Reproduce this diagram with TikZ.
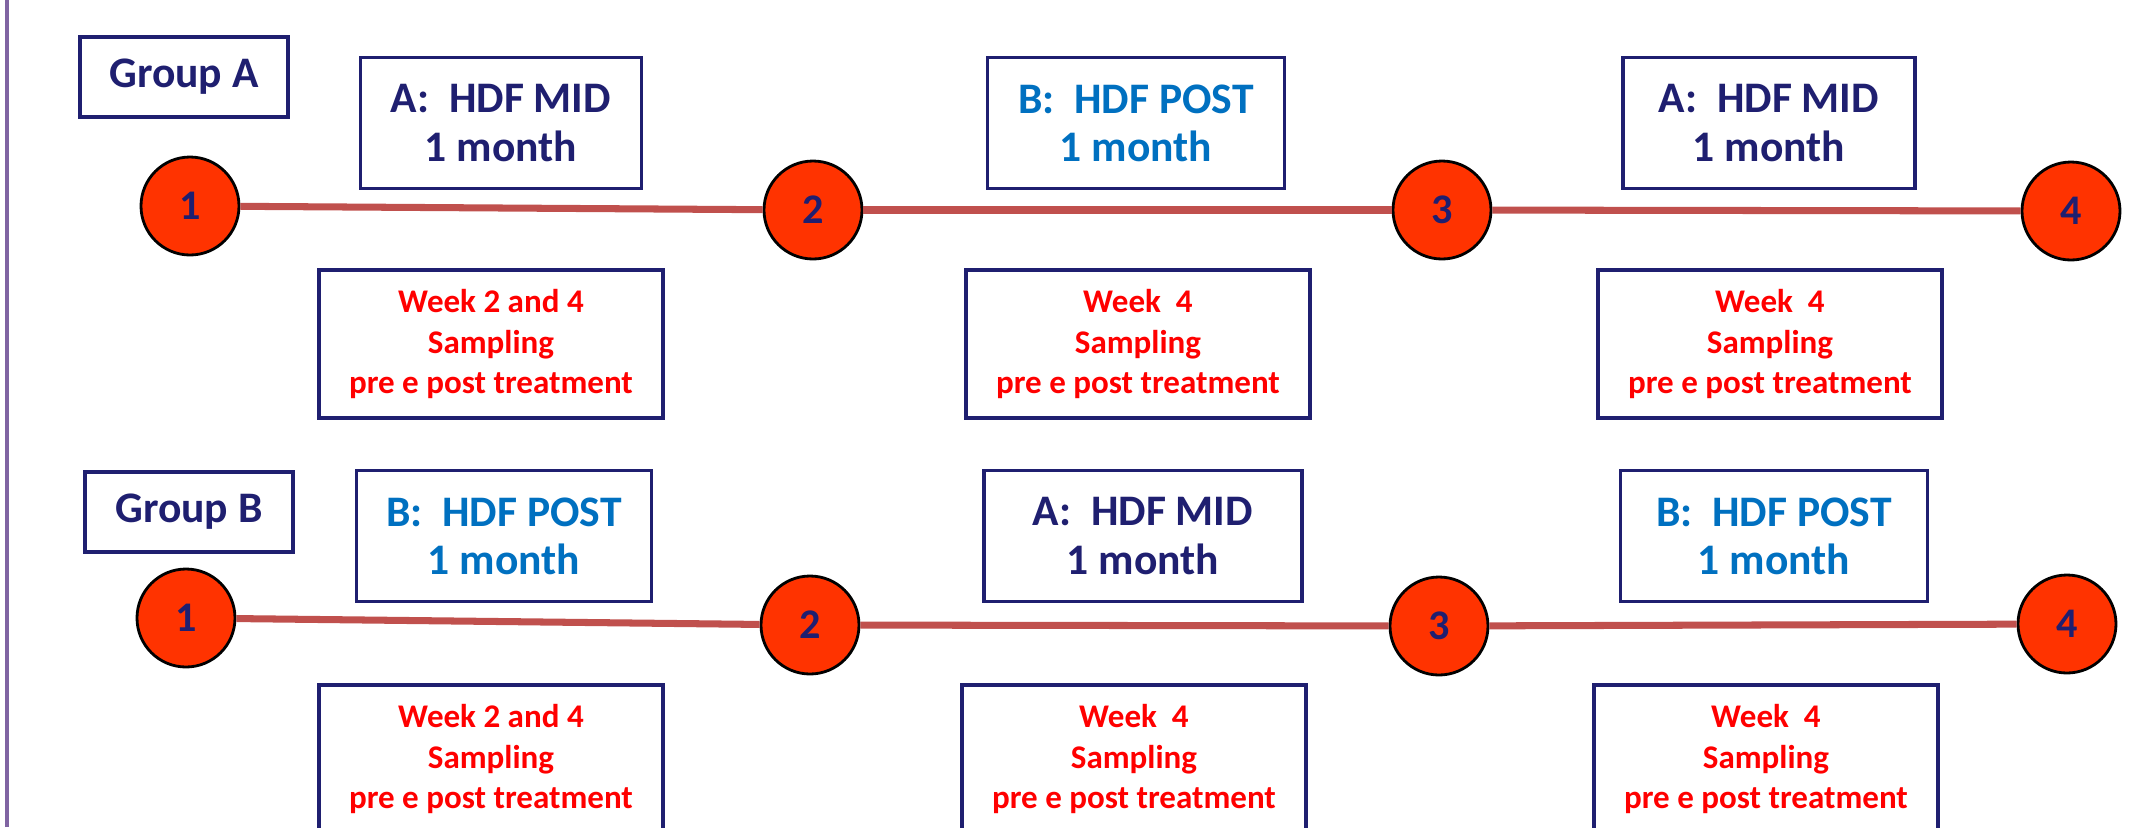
\documentclass[tikz,border=0pt]{standalone}
\usepackage{fontspec}
\setmainfont{Carlito}
\usepackage{xcolor}
\usepackage{tikz}
\usetikzlibrary{shapes.geometric, positioning}

\definecolor{boxnavy}{HTML}{1F1F70}
\definecolor{hdfblue}{HTML}{0070C0}
\definecolor{weekred}{HTML}{FF0000}
\definecolor{visitfill}{HTML}{FF3300}
\definecolor{linered}{HTML}{C0504D}
\definecolor{framepurple}{HTML}{8064A2}

\begin{document}
\begin{tikzpicture}[
    groupbox/.style={rectangle, draw=boxnavy, line width=1pt, text=boxnavy, font=\bfseries\fontsize{12.4}{14}\selectfont, minimum width=2.08cm, minimum height=0.8cm},
    phasebox/.style={rectangle, draw=boxnavy, line width=1pt, font=\bfseries\fontsize{12.4}{13.7}\selectfont, align=center, minimum height=1.31cm, inner sep=0pt},
    midbox/.style={phasebox, text=boxnavy},
    postbox/.style={phasebox, text=hdfblue},
    weekbox/.style={rectangle, draw=boxnavy, line width=1pt, text=weekred, font=\bfseries\fontsize{9.4}{11.4}\selectfont, align=center, minimum width=3.44cm, minimum height=1.48cm},
    visit/.style={circle, draw=black, line width=0.8pt, fill=visitfill, text=boxnavy, font=\bfseries\fontsize{12}{14}\selectfont, minimum size=0.98cm, inner sep=0pt},
    timeline/.style={draw=linered, line width=2pt}]

    \useasboundingbox (0,0) rectangle (21.49,8.27);
    \clip (0,0) rectangle (21.49,8.27);
    \draw [framepurple, line width=0.9pt] (0.07,0) -- (0.07,8.27);

    \node [groupbox] (grpA) at (1.84,7.50) {Group A};
    \node [midbox, minimum width=2.81cm] (phA1) at (5.01,7.04) {A:\ \ HDF MID\\1 month};
    \node [postbox, minimum width=2.97cm] (phA2) at (11.36,7.04) {B:\ \ HDF POST\\1 month};
    \node [midbox, minimum width=2.92cm] (phA3) at (17.69,7.04) {A:\ \ HDF MID\\1 month};

    \node [visit] (vA1) at (1.90,6.21) {1};
    \node [visit] (vA2) at (8.13,6.17) {2};
    \node [visit] (vA3) at (14.42,6.17) {3};
    \node [visit] (vA4) at (20.71,6.16) {4};

    \node [weekbox] (wkA1) at (4.91,4.83) {Week 2 and 4\\Sampling\\pre e post treatment};
    \node [weekbox] (wkA2) at (11.38,4.83) {Week\ \ 4\\Sampling\\pre e post treatment};
    \node [weekbox] (wkA3) at (17.70,4.83) {Week\ \ 4\\Sampling\\pre e post treatment};

    \draw [timeline] (vA1) -- (vA2);
    \draw [timeline] (vA2) -- (vA3);
    \draw [timeline] (vA3) -- (vA4);

    \node [groupbox] (grpB) at (1.89,3.15) {Group B};
    \node [postbox, minimum width=2.95cm] (phB1) at (5.04,2.91) {B:\ \ HDF POST\\1 month};
    \node [midbox, minimum width=3.18cm] (phB2) at (11.43,2.91) {A:\ \ HDF MID\\1 month};
    \node [postbox, minimum width=3.07cm] (phB3) at (17.74,2.91) {B:\ \ HDF POST\\1 month};

    \node [visit] (vB1) at (1.86,2.09) {1};
    \node [visit] (vB2) at (8.10,2.02) {2};
    \node [visit] (vB3) at (14.39,2.01) {3};
    \node [visit] (vB4) at (20.67,2.03) {4};

    \node [weekbox] (wkB1) at (4.91,0.68) {Week 2 and 4\\Sampling\\pre e post treatment};
    \node [weekbox] (wkB2) at (11.34,0.68) {Week\ \ 4\\Sampling\\pre e post treatment};
    \node [weekbox] (wkB3) at (17.66,0.68) {Week\ \ 4\\Sampling\\pre e post treatment};

    \draw [timeline] (vB1) -- (vB2);
    \draw [timeline] (vB2) -- (vB3);
    \draw [timeline] (vB3) -- (vB4);
\end{tikzpicture}
\end{document}
